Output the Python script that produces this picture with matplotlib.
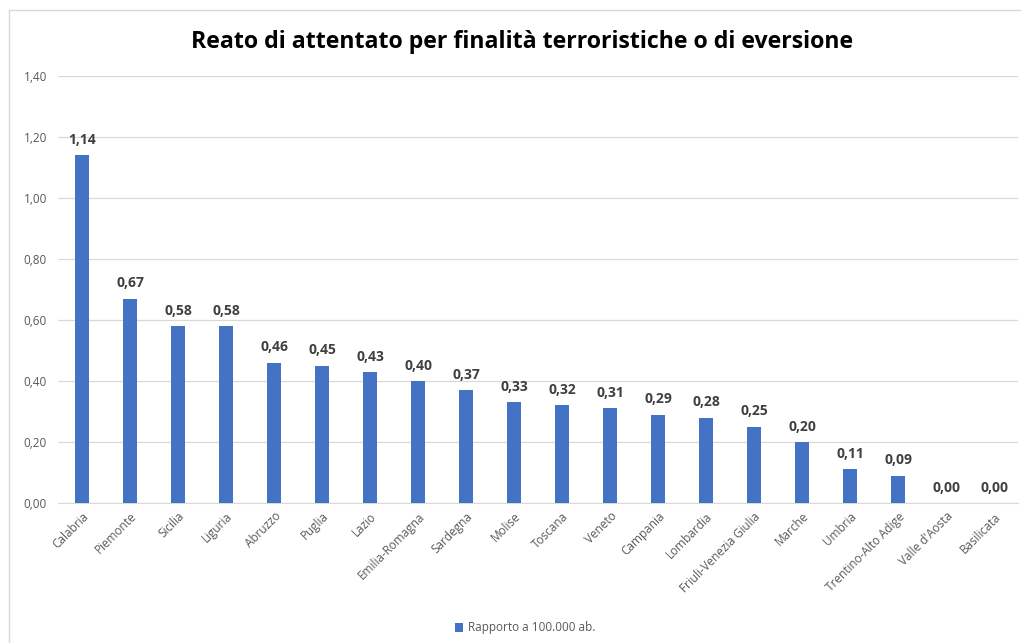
import matplotlib
matplotlib.use("Agg")
import matplotlib.pyplot as plt
from matplotlib.lines import Line2D

regions = ["Calabria", "Piemonte", "Sicilia", "Liguria", "Abruzzo", "Puglia", "Lazio",
           "Emilia-Romagna", "Sardegna", "Molise", "Toscana", "Veneto", "Campania",
           "Lombardia", "Friuli-Venezia Giulia", "Marche", "Umbria", "Trentino-Alto Adige",
           "Valle d'Aosta", "Basilicata"]
values = [1.14, 0.67, 0.58, 0.58, 0.46, 0.45, 0.43, 0.40, 0.37, 0.33, 0.32, 0.31,
          0.29, 0.28, 0.25, 0.20, 0.11, 0.09, 0.00, 0.00]
yticks = [0.0, 0.2, 0.4, 0.6, 0.8, 1.0, 1.2, 1.4]
title = "Reato di attentato per finalità terroristiche o di eversione"
series_name = "Rapporto a 100.000 ab."

W, H = 1021, 643
fig = plt.figure(figsize=(W / 100, H / 100), dpi=100)
fig.patch.set_facecolor("white")
font = "Open Sans"

ax = fig.add_axes([58 / W, 1 - 503 / H, (1018 - 58) / W, (503 - 76) / H])
x = list(range(len(regions)))
bars = ax.bar(x, values, width=0.31, color="#4472C4", label=series_name, zorder=3)
ax.set_xlim(-0.5, len(regions) - 0.5)
ax.set_ylim(0, 1.4)
ax.set_yticks(yticks)
ax.set_yticklabels([f"{v:.2f}".replace(".", ",") for v in yticks],
                   fontsize=8.5, color="#595959", family=font)
ax.set_xticks(x)
ax.set_xticklabels(regions, rotation=45, ha="right", rotation_mode="anchor",
                   fontsize=8.5, color="#595959", family=font)
ax.tick_params(axis="both", length=0)
ax.tick_params(axis="y", pad=8)
ax.tick_params(axis="x", pad=5)
for s in ["top", "right", "left"]:
    ax.spines[s].set_visible(False)
ax.spines["bottom"].set_color("#D9D9D9")
ax.grid(axis="y", color="#D9D9D9", linewidth=0.9, zorder=0)
ax.set_axisbelow(True)

for xi, v in zip(x, values):
    ax.annotate(f"{v:.2f}".replace(".", ","), (xi, v), xytext=(0, 6),
                textcoords="offset points", ha="center", va="bottom",
                fontsize=10, fontweight="bold", color="#404040", family=font)

fig.text(522 / W, 1 - 42 / H, title, ha="center", va="center", fontsize=16.7,
         fontweight="bold", color="black", family=font)

leg = fig.legend(handles=[bars], labels=[series_name], loc="center",
                 bbox_to_anchor=(525 / W, 1 - 628 / H), frameon=False,
                 prop={"family": font, "size": 8.5}, handlelength=0.7,
                 handleheight=0.7, handletextpad=0.4)
for t in leg.get_texts():
    t.set_color("#595959")

fig.add_artist(Line2D([9 / W, 9 / W], [0, 1 - 10 / H], transform=fig.transFigure,
                      color="#D9D9D9", linewidth=1))
fig.add_artist(Line2D([9 / W, 1], [1 - 10 / H, 1 - 10 / H], transform=fig.transFigure,
                      color="#D9D9D9", linewidth=1))

fig.savefig("out.png", dpi=100, facecolor="white")
